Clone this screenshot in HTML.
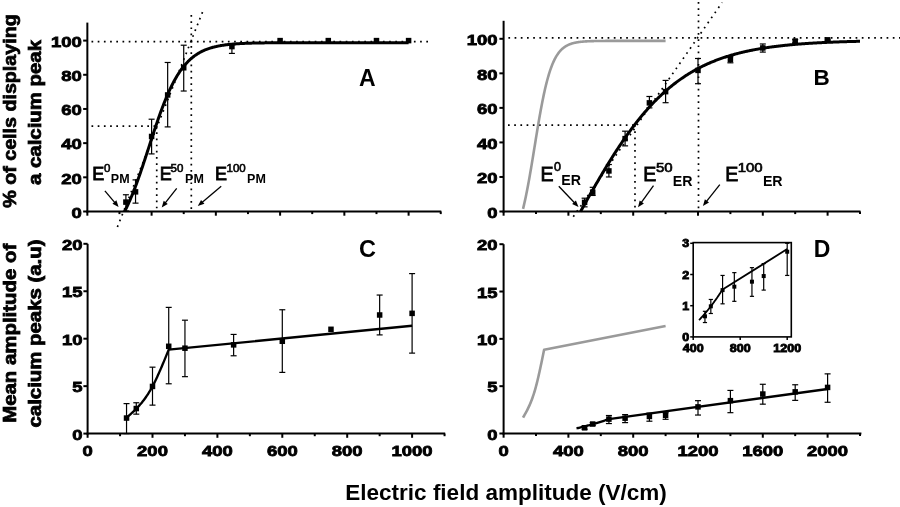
<!DOCTYPE html>
<html><head><meta charset="utf-8"><style>
html,body{margin:0;padding:0;background:#fff;}
body{width:900px;height:507px;overflow:hidden;}
svg{display:block;}
.ax{stroke:#000;stroke-width:2;fill:none;stroke-linecap:butt;}
.eb{stroke:#000;stroke-width:1.2;fill:none;}
.ar{stroke:#000;stroke-width:1.3;fill:none;}
.cv{stroke:#000;stroke-width:3;fill:none;stroke-linejoin:round;}
.ln{stroke:#000;stroke-width:2.35;fill:none;stroke-linejoin:round;}
.lni{stroke:#000;stroke-width:1.8;fill:none;stroke-linejoin:round;}
.gr{stroke:#9a9a9a;stroke-width:2.6;fill:none;stroke-linejoin:round;}
.dt{stroke:#000;stroke-width:1.7;fill:none;stroke-dasharray:1.7 4.5;}
text{font-family:"Liberation Sans",sans-serif;fill:#000;}
.tl{font-weight:bold;stroke:#000;stroke-width:0.8;}
.yt{font-weight:bold;stroke:#000;stroke-width:0.75;}
.xt{font-weight:bold;}
.pl{font-weight:bold;}
.eb1{font-weight:bold;}
.es{font-weight:normal;stroke:#000;stroke-width:0.6;}
.eE{font-weight:normal;stroke:#000;stroke-width:0.8;}
</style></head><body>
<svg width="900" height="507" viewBox="0 0 900 507">
<rect width="900" height="507" fill="#fff"/>
<line x1="87.35" y1="22.60" x2="87.35" y2="212.50" class="ax"/>
<line x1="86.35" y1="211.50" x2="441.30" y2="211.50" class="ax"/>
<line x1="83.15" y1="211.50" x2="87.35" y2="211.50" class="ax"/>
<line x1="83.15" y1="177.32" x2="87.35" y2="177.32" class="ax"/>
<line x1="83.15" y1="143.14" x2="87.35" y2="143.14" class="ax"/>
<line x1="83.15" y1="108.96" x2="87.35" y2="108.96" class="ax"/>
<line x1="83.15" y1="74.78" x2="87.35" y2="74.78" class="ax"/>
<line x1="83.15" y1="40.60" x2="87.35" y2="40.60" class="ax"/>
<line x1="87.35" y1="211.50" x2="87.35" y2="215.70" class="ax"/>
<line x1="151.60" y1="211.50" x2="151.60" y2="215.70" class="ax"/>
<line x1="215.85" y1="211.50" x2="215.85" y2="215.70" class="ax"/>
<line x1="280.10" y1="211.50" x2="280.10" y2="215.70" class="ax"/>
<line x1="344.35" y1="211.50" x2="344.35" y2="215.70" class="ax"/>
<line x1="408.60" y1="211.50" x2="408.60" y2="215.70" class="ax"/>
<line x1="119.47" y1="211.50" x2="119.47" y2="214.10" class="ax"/>
<line x1="183.72" y1="211.50" x2="183.72" y2="214.10" class="ax"/>
<line x1="247.97" y1="211.50" x2="247.97" y2="214.10" class="ax"/>
<line x1="312.23" y1="211.50" x2="312.23" y2="214.10" class="ax"/>
<line x1="376.48" y1="211.50" x2="376.48" y2="214.10" class="ax"/>
<line x1="440.73" y1="211.50" x2="440.73" y2="214.10" class="ax"/>
<text transform="translate(81.80,217.70) scale(1.215,1)" text-anchor="end" class="tl" font-size="15.2">0</text>
<text transform="translate(81.80,183.52) scale(1.215,1)" text-anchor="end" class="tl" font-size="15.2">20</text>
<text transform="translate(81.80,149.34) scale(1.215,1)" text-anchor="end" class="tl" font-size="15.2">40</text>
<text transform="translate(81.80,115.16) scale(1.215,1)" text-anchor="end" class="tl" font-size="15.2">60</text>
<text transform="translate(81.80,80.98) scale(1.215,1)" text-anchor="end" class="tl" font-size="15.2">80</text>
<text transform="translate(81.80,46.80) scale(1.215,1)" text-anchor="end" class="tl" font-size="15.2">100</text>
<line x1="91.5" y1="41.7" x2="432" y2="41.7" class="dt"/>
<line x1="91.5" y1="126.05" x2="156.74" y2="126.05" class="dt"/>
<line x1="156.74" y1="126.05" x2="156.74" y2="211" class="dt"/>
<line x1="191.3" y1="15" x2="191.3" y2="211" class="dt"/>
<line x1="117.4" y1="227" x2="203.2" y2="10.4" class="dt"/>
<path d="M124.78,211.06 L125.49,209.67 L126.20,208.25 L126.91,206.78 L127.62,205.29 L128.33,203.75 L129.04,202.19 L129.75,200.58 L130.47,198.94 L131.18,197.27 L131.89,195.56 L132.60,193.82 L133.31,192.05 L134.02,190.25 L134.73,188.41 L135.45,186.54 L136.16,184.64 L136.87,182.72 L137.58,180.76 L138.29,178.78 L139.00,176.78 L139.71,174.75 L140.43,172.70 L141.14,170.62 L141.85,168.53 L142.56,166.42 L143.27,164.29 L143.98,162.15 L144.69,159.99 L145.40,157.83 L146.12,155.65 L146.83,153.47 L147.54,151.28 L148.25,149.09 L148.96,146.89 L149.67,144.70 L150.38,142.51 L151.10,140.32 L151.81,138.14 L152.52,135.96 L153.23,133.80 L153.94,131.65 L154.65,129.51 L155.36,127.39 L156.07,125.28 L156.79,123.19 L157.50,121.12 L158.21,119.07 L158.92,117.05 L159.63,115.05 L160.34,113.08 L161.05,111.13 L161.77,109.21 L162.48,107.32 L163.19,105.46 L163.90,103.63 L164.61,101.83 L165.32,100.07 L166.03,98.34 L166.74,96.64 L167.46,94.97 L168.17,93.34 L168.88,91.75 L169.59,90.19 L170.30,88.66 L171.01,87.17 L171.72,85.72 L172.44,84.30 L173.15,82.92 L173.86,81.57 L174.57,80.26 L175.28,78.98 L175.99,77.74 L176.70,76.53 L177.41,75.35 L178.13,74.21 L178.84,73.10 L179.55,72.03 L180.26,70.98 L180.97,69.97 L181.68,68.99 L182.39,68.04 L183.11,67.11 L183.82,66.22 L184.53,65.36 L185.24,64.52 L185.95,63.71 L186.66,62.93 L187.37,62.18 L188.08,61.44 L188.80,60.74 L189.51,60.06 L190.22,59.40 L190.93,58.76 L191.64,58.15 L192.35,57.56 L193.06,56.99 L193.78,56.44 L194.49,55.90 L195.20,55.39 L195.91,54.90 L196.62,54.42 L197.33,53.97 L198.04,53.53 L198.75,53.10 L199.47,52.69 L200.18,52.30 L200.89,51.92 L201.60,51.55 L202.31,51.20 L203.02,50.86 L203.73,50.54 L204.45,50.23 L205.16,49.93 L205.87,49.64 L206.58,49.36 L207.29,49.09 L208.00,48.83 L208.71,48.59 L209.42,48.35 L210.14,48.12 L210.85,47.90 L211.56,47.69 L212.27,47.49 L212.98,47.29 L213.69,47.11 L214.40,46.93 L215.12,46.76 L215.83,46.59 L216.54,46.43 L217.25,46.28 L217.96,46.13 L218.67,45.99 L219.38,45.86 L220.10,45.73 L220.81,45.60 L221.52,45.48 L222.23,45.37 L222.94,45.26 L223.65,45.15 L224.36,45.05 L225.07,44.95 L225.79,44.86 L226.50,44.77 L227.21,44.68 L227.92,44.60 L228.63,44.52 L229.34,44.44 L230.05,44.37 L230.77,44.30 L231.48,44.23 L232.19,44.17 L232.90,44.11 L233.61,44.05 L234.32,43.99 L235.03,43.93 L235.74,43.88 L236.46,43.83 L237.17,43.78 L237.88,43.74 L238.59,43.69 L239.30,43.65 L240.01,43.61 L240.72,43.57 L241.44,43.53 L242.15,43.50 L242.86,43.46 L243.57,43.43 L244.28,43.40 L244.99,43.37 L245.70,43.34 L246.41,43.31 L247.13,43.28 L247.84,43.26 L248.55,43.23 L249.26,43.21 L249.97,43.18 L250.68,43.16 L251.39,43.14 L252.11,43.12 L252.82,43.10 L253.53,43.08 L254.24,43.07 L254.95,43.05 L255.66,43.03 L256.37,43.02 L257.08,43.00 L257.80,42.99 L258.51,42.97 L259.22,42.96 L259.93,42.95 L260.64,42.94 L261.35,42.92 L262.06,42.91 L262.78,42.90 L263.49,42.89 L264.20,42.88 L264.91,42.87 L265.62,42.86 L266.33,42.85 L267.04,42.85 L267.75,42.84 L268.47,42.83 L269.18,42.82 L269.89,42.82 L270.60,42.81 L271.31,42.80 L272.02,42.80 L272.73,42.79 L273.45,42.78 L274.16,42.78 L274.87,42.77 L275.58,42.77 L276.29,42.76 L277.00,42.76 L277.71,42.75 L278.42,42.75 L279.14,42.75 L279.85,42.74 L280.56,42.74 L281.27,42.74 L281.98,42.73 L282.69,42.73 L283.40,42.73 L284.12,42.72 L284.83,42.72 L285.54,42.72 L286.25,42.71 L286.96,42.71 L287.67,42.71 L288.38,42.71 L289.09,42.70 L289.81,42.70 L290.52,42.70 L291.23,42.70 L291.94,42.70 L292.65,42.69 L293.36,42.69 L294.07,42.69 L294.79,42.69 L295.50,42.69 L296.21,42.69 L296.92,42.68 L297.63,42.68 L298.34,42.68 L299.05,42.68 L299.77,42.68 L300.48,42.68 L301.19,42.68 L301.90,42.68 L302.61,42.67 L303.32,42.67 L304.03,42.67 L304.74,42.67 L305.46,42.67 L306.17,42.67 L306.88,42.67 L307.59,42.67 L308.30,42.67 L309.01,42.67 L309.72,42.67 L310.44,42.67 L311.15,42.67 L311.86,42.66 L312.57,42.66 L313.28,42.66 L313.99,42.66 L314.70,42.66 L315.41,42.66 L316.13,42.66 L316.84,42.66 L317.55,42.66 L318.26,42.66 L318.97,42.66 L319.68,42.66 L320.39,42.66 L321.11,42.66 L321.82,42.66 L322.53,42.66 L323.24,42.66 L323.95,42.66 L324.66,42.66 L325.37,42.66 L326.08,42.66 L326.80,42.66 L327.51,42.66 L328.22,42.66 L328.93,42.66 L329.64,42.66 L330.35,42.66 L331.06,42.66 L331.78,42.66 L332.49,42.65 L333.20,42.65 L333.91,42.65 L334.62,42.65 L335.33,42.65 L336.04,42.65 L336.75,42.65 L337.47,42.65 L338.18,42.65 L338.89,42.65 L339.60,42.65 L340.31,42.65 L341.02,42.65 L341.73,42.65 L342.45,42.65 L343.16,42.65 L343.87,42.65 L344.58,42.65 L345.29,42.65 L346.00,42.65 L346.71,42.65 L347.42,42.65 L348.14,42.65 L348.85,42.65 L349.56,42.65 L350.27,42.65 L350.98,42.65 L351.69,42.65 L352.40,42.65 L353.12,42.65 L353.83,42.65 L354.54,42.65 L355.25,42.65 L355.96,42.65 L356.67,42.65 L357.38,42.65 L358.09,42.65 L358.81,42.65 L359.52,42.65 L360.23,42.65 L360.94,42.65 L361.65,42.65 L362.36,42.65 L363.07,42.65 L363.79,42.65 L364.50,42.65 L365.21,42.65 L365.92,42.65 L366.63,42.65 L367.34,42.65 L368.05,42.65 L368.76,42.65 L369.48,42.65 L370.19,42.65 L370.90,42.65 L371.61,42.65 L372.32,42.65 L373.03,42.65 L373.74,42.65 L374.46,42.65 L375.17,42.65 L375.88,42.65 L376.59,42.65 L377.30,42.65 L378.01,42.65 L378.72,42.65 L379.44,42.65 L380.15,42.65 L380.86,42.65 L381.57,42.65 L382.28,42.65 L382.99,42.65 L383.70,42.65 L384.41,42.65 L385.13,42.65 L385.84,42.65 L386.55,42.65 L387.26,42.65 L387.97,42.65 L388.68,42.65 L389.39,42.65 L390.11,42.65 L390.82,42.65 L391.53,42.65 L392.24,42.65 L392.95,42.65 L393.66,42.65 L394.37,42.65 L395.08,42.65 L395.80,42.65 L396.51,42.65 L397.22,42.65 L397.93,42.65 L398.64,42.65 L399.35,42.65 L400.06,42.65 L400.78,42.65 L401.49,42.65 L402.20,42.65 L402.91,42.65 L403.62,42.65 L404.33,42.65 L405.04,42.65 L405.75,42.65 L406.47,42.65 L407.18,42.65 L407.89,42.65 L408.60,42.65" class="cv"/>
<line x1="125.90" y1="194.75" x2="125.90" y2="210.99" class="eb"/>
<line x1="122.90" y1="194.75" x2="128.90" y2="194.75" class="eb"/>
<line x1="122.90" y1="210.99" x2="128.90" y2="210.99" class="eb"/>
<rect x="123.15" y="199.35" width="5.5" height="5.5" fill="#000"/>
<line x1="135.54" y1="179.88" x2="135.54" y2="203.13" class="eb"/>
<line x1="132.54" y1="179.88" x2="138.54" y2="179.88" class="eb"/>
<line x1="132.54" y1="203.13" x2="138.54" y2="203.13" class="eb"/>
<rect x="132.79" y="189.10" width="5.5" height="5.5" fill="#000"/>
<line x1="151.60" y1="119.21" x2="151.60" y2="153.91" class="eb"/>
<line x1="148.60" y1="119.21" x2="154.60" y2="119.21" class="eb"/>
<line x1="148.60" y1="153.91" x2="154.60" y2="153.91" class="eb"/>
<rect x="148.85" y="133.72" width="5.5" height="5.5" fill="#000"/>
<line x1="167.66" y1="62.48" x2="167.66" y2="126.90" class="eb"/>
<line x1="164.66" y1="62.48" x2="170.66" y2="62.48" class="eb"/>
<line x1="164.66" y1="126.90" x2="170.66" y2="126.90" class="eb"/>
<rect x="164.91" y="92.20" width="5.5" height="5.5" fill="#000"/>
<line x1="183.72" y1="45.21" x2="183.72" y2="91.02" class="eb"/>
<line x1="180.72" y1="45.21" x2="186.72" y2="45.21" class="eb"/>
<line x1="180.72" y1="91.02" x2="186.72" y2="91.02" class="eb"/>
<rect x="180.97" y="65.02" width="5.5" height="5.5" fill="#000"/>
<line x1="231.91" y1="44.70" x2="231.91" y2="53.42" class="eb"/>
<line x1="228.91" y1="44.70" x2="234.91" y2="44.70" class="eb"/>
<line x1="228.91" y1="53.42" x2="234.91" y2="53.42" class="eb"/>
<rect x="229.16" y="43.83" width="5.5" height="5.5" fill="#000"/>
<rect x="277.35" y="37.85" width="5.5" height="5.5" fill="#000"/>
<rect x="325.54" y="37.85" width="5.5" height="5.5" fill="#000"/>
<rect x="373.73" y="37.85" width="5.5" height="5.5" fill="#000"/>
<rect x="405.85" y="37.85" width="5.5" height="5.5" fill="#000"/>
<text transform="translate(92.30,179.80) scale(1.0,1)" class="eE" font-size="18">E</text>
<text transform="translate(104.00,172.40) scale(1.0,1)" class="es" font-size="11.5">0</text>
<text transform="translate(110.80,182.80) scale(1.0,1)" class="eb1" font-size="12.5">PM</text>
<text transform="translate(159.70,179.80) scale(1.0,1)" class="eE" font-size="18">E</text>
<text transform="translate(170.60,171.90) scale(1.0,1)" class="es" font-size="11.5">50</text>
<text transform="translate(185.10,183.00) scale(1.0,1)" class="eb1" font-size="12.5">PM</text>
<text transform="translate(215.00,179.80) scale(1.0,1)" class="eE" font-size="18">E</text>
<text transform="translate(226.50,172.20) scale(1.0,1)" class="es" font-size="11.5">100</text>
<text transform="translate(247.10,183.00) scale(1.0,1)" class="eb1" font-size="12.5">PM</text>
<line x1="104.90" y1="190.80" x2="115.05" y2="202.80" class="ar"/>
<path d="M118.60,207.00 L112.42,203.72 L116.39,200.36 Z" fill="#000"/>
<line x1="176.70" y1="188.40" x2="165.10" y2="203.17" class="ar"/>
<path d="M161.70,207.50 L163.67,200.78 L167.76,203.99 Z" fill="#000"/>
<line x1="221.20" y1="186.20" x2="201.99" y2="202.54" class="ar"/>
<path d="M197.80,206.10 L201.07,199.91 L204.44,203.87 Z" fill="#000"/>
<text x="359" y="85.5" class="pl" font-size="23">A</text>
<line x1="503.60" y1="20.80" x2="503.60" y2="212.50" class="ax"/>
<line x1="502.60" y1="211.50" x2="860.50" y2="211.50" class="ax"/>
<line x1="499.40" y1="211.50" x2="503.60" y2="211.50" class="ax"/>
<line x1="499.40" y1="176.96" x2="503.60" y2="176.96" class="ax"/>
<line x1="499.40" y1="142.42" x2="503.60" y2="142.42" class="ax"/>
<line x1="499.40" y1="107.88" x2="503.60" y2="107.88" class="ax"/>
<line x1="499.40" y1="73.34" x2="503.60" y2="73.34" class="ax"/>
<line x1="499.40" y1="38.80" x2="503.60" y2="38.80" class="ax"/>
<line x1="503.60" y1="211.50" x2="503.60" y2="215.70" class="ax"/>
<line x1="568.40" y1="211.50" x2="568.40" y2="215.70" class="ax"/>
<line x1="633.20" y1="211.50" x2="633.20" y2="215.70" class="ax"/>
<line x1="698.00" y1="211.50" x2="698.00" y2="215.70" class="ax"/>
<line x1="762.80" y1="211.50" x2="762.80" y2="215.70" class="ax"/>
<line x1="827.60" y1="211.50" x2="827.60" y2="215.70" class="ax"/>
<line x1="536.00" y1="211.50" x2="536.00" y2="214.10" class="ax"/>
<line x1="600.80" y1="211.50" x2="600.80" y2="214.10" class="ax"/>
<line x1="665.60" y1="211.50" x2="665.60" y2="214.10" class="ax"/>
<line x1="730.40" y1="211.50" x2="730.40" y2="214.10" class="ax"/>
<line x1="795.20" y1="211.50" x2="795.20" y2="214.10" class="ax"/>
<line x1="860.00" y1="211.50" x2="860.00" y2="214.10" class="ax"/>
<text transform="translate(497.60,217.70) scale(1.215,1)" text-anchor="end" class="tl" font-size="15.2">0</text>
<text transform="translate(497.60,183.16) scale(1.215,1)" text-anchor="end" class="tl" font-size="15.2">20</text>
<text transform="translate(497.60,148.62) scale(1.215,1)" text-anchor="end" class="tl" font-size="15.2">40</text>
<text transform="translate(497.60,114.08) scale(1.215,1)" text-anchor="end" class="tl" font-size="15.2">60</text>
<text transform="translate(497.60,79.54) scale(1.215,1)" text-anchor="end" class="tl" font-size="15.2">80</text>
<text transform="translate(497.60,45.00) scale(1.215,1)" text-anchor="end" class="tl" font-size="15.2">100</text>
<line x1="508.4" y1="37.9" x2="900" y2="37.9" class="dt"/>
<line x1="508" y1="125.15" x2="634.98" y2="125.15" class="dt"/>
<line x1="634.98" y1="125.15" x2="634.98" y2="211" class="dt"/>
<line x1="698.5" y1="2" x2="698.5" y2="211" class="dt"/>
<line x1="573.3" y1="216.7" x2="722.2" y2="2.4" class="dt"/>
<path d="M523.04,208.82 L523.52,206.87 L523.99,204.85 L524.47,202.78 L524.95,200.63 L525.42,198.43 L525.90,196.17 L526.38,193.84 L526.85,191.46 L527.33,189.02 L527.81,186.52 L528.28,183.97 L528.76,181.37 L529.24,178.72 L529.72,176.03 L530.19,173.29 L530.67,170.51 L531.15,167.70 L531.62,164.86 L532.10,161.99 L532.58,159.09 L533.05,156.18 L533.53,153.25 L534.01,150.31 L534.48,147.36 L534.96,144.42 L535.44,141.47 L535.91,138.54 L536.39,135.61 L536.87,132.71 L537.34,129.82 L537.82,126.96 L538.30,124.13 L538.77,121.33 L539.25,118.57 L539.73,115.85 L540.20,113.17 L540.68,110.54 L541.16,107.96 L541.63,105.43 L542.11,102.96 L542.59,100.54 L543.07,98.18 L543.54,95.88 L544.02,93.64 L544.50,91.46 L544.97,89.34 L545.45,87.29 L545.93,85.30 L546.40,83.38 L546.88,81.51 L547.36,79.71 L547.83,77.97 L548.31,76.30 L548.79,74.68 L549.26,73.13 L549.74,71.63 L550.22,70.19 L550.69,68.81 L551.17,67.49 L551.65,66.21 L552.12,65.00 L552.60,63.83 L553.08,62.71 L553.55,61.64 L554.03,60.62 L554.51,59.64 L554.98,58.71 L555.46,57.82 L555.94,56.97 L556.42,56.16 L556.89,55.39 L557.37,54.65 L557.85,53.95 L558.32,53.28 L558.80,52.64 L559.28,52.04 L559.75,51.46 L560.23,50.92 L560.71,50.39 L561.18,49.90 L561.66,49.43 L562.14,48.98 L562.61,48.56 L563.09,48.16 L563.57,47.77 L564.04,47.41 L564.52,47.07 L565.00,46.74 L565.47,46.43 L565.95,46.13 L566.43,45.86 L566.90,45.59 L567.38,45.34 L567.86,45.10 L568.33,44.88 L568.81,44.66 L569.29,44.46 L569.77,44.27 L570.24,44.09 L570.72,43.92 L571.20,43.75 L571.67,43.60 L572.15,43.45 L572.63,43.31 L573.10,43.18 L573.58,43.06 L574.06,42.94 L574.53,42.83 L575.01,42.72 L575.49,42.63 L575.96,42.53 L576.44,42.44 L576.92,42.36 L577.39,42.28 L577.87,42.20 L578.35,42.13 L578.82,42.06 L579.30,42.00 L579.78,41.94 L580.25,41.88 L580.73,41.82 L581.21,41.77 L581.69,41.72 L582.16,41.68 L582.64,41.63 L583.12,41.59 L583.59,41.55 L584.07,41.52 L584.55,41.48 L585.02,41.45 L585.50,41.42 L585.98,41.39 L586.45,41.36 L586.93,41.33 L587.41,41.31 L587.88,41.29 L588.36,41.26 L588.84,41.24 L589.31,41.22 L589.79,41.20 L590.27,41.19 L590.74,41.17 L591.22,41.15 L591.70,41.14 L592.17,41.12 L592.65,41.11 L593.13,41.10 L593.60,41.08 L594.08,41.07 L594.56,41.06 L595.04,41.05 L595.51,41.04 L595.99,41.03 L596.47,41.02 L596.94,41.02 L597.42,41.01 L597.90,41.00 L598.37,40.99 L598.85,40.99 L599.33,40.98 L599.80,40.97 L600.28,40.97 L600.76,40.96 L601.23,40.96 L601.71,40.95 L602.19,40.95 L602.66,40.95 L603.14,40.94 L603.62,40.94 L604.09,40.93 L604.57,40.93 L605.05,40.93 L605.52,40.92 L606.00,40.92 L606.48,40.92 L606.95,40.92 L607.43,40.91 L607.91,40.91 L608.39,40.91 L608.86,40.91 L609.34,40.91 L609.82,40.90 L610.29,40.90 L610.77,40.90 L611.25,40.90 L611.72,40.90 L612.20,40.90 L612.68,40.90 L613.15,40.89 L613.63,40.89 L614.11,40.89 L614.58,40.89 L615.06,40.89 L615.54,40.89 L616.01,40.89 L616.49,40.89 L616.97,40.89 L617.44,40.89 L617.92,40.88 L618.40,40.88 L618.87,40.88 L619.35,40.88 L619.83,40.88 L620.31,40.88 L620.78,40.88 L621.26,40.88 L621.74,40.88 L622.21,40.88 L622.69,40.88 L623.17,40.88 L623.64,40.88 L624.12,40.88 L624.60,40.88 L625.07,40.88 L625.55,40.88 L626.03,40.88 L626.50,40.88 L626.98,40.88 L627.46,40.88 L627.93,40.88 L628.41,40.88 L628.89,40.88 L629.36,40.88 L629.84,40.88 L630.32,40.88 L630.79,40.88 L631.27,40.87 L631.75,40.87 L632.22,40.87 L632.70,40.87 L633.18,40.87 L633.66,40.87 L634.13,40.87 L634.61,40.87 L635.09,40.87 L635.56,40.87 L636.04,40.87 L636.52,40.87 L636.99,40.87 L637.47,40.87 L637.95,40.87 L638.42,40.87 L638.90,40.87 L639.38,40.87 L639.85,40.87 L640.33,40.87 L640.81,40.87 L641.28,40.87 L641.76,40.87 L642.24,40.87 L642.71,40.87 L643.19,40.87 L643.67,40.87 L644.14,40.87 L644.62,40.87 L645.10,40.87 L645.57,40.87 L646.05,40.87 L646.53,40.87 L647.01,40.87 L647.48,40.87 L647.96,40.87 L648.44,40.87 L648.91,40.87 L649.39,40.87 L649.87,40.87 L650.34,40.87 L650.82,40.87 L651.30,40.87 L651.77,40.87 L652.25,40.87 L652.73,40.87 L653.20,40.87 L653.68,40.87 L654.16,40.87 L654.63,40.87 L655.11,40.87 L655.59,40.87 L656.06,40.87 L656.54,40.87 L657.02,40.87 L657.49,40.87 L657.97,40.87 L658.45,40.87 L658.92,40.87 L659.40,40.87 L659.88,40.87 L660.36,40.87 L660.83,40.87 L661.31,40.87 L661.79,40.87 L662.26,40.87 L662.74,40.87 L663.22,40.87 L663.69,40.87 L664.17,40.87 L664.65,40.87 L665.12,40.87 L665.60,40.87" class="gr"/>
<path d="M580.55,211.54 L581.25,210.29 L581.95,209.04 L582.65,207.78 L583.35,206.53 L584.05,205.28 L584.75,204.03 L585.45,202.78 L586.15,201.54 L586.85,200.29 L587.55,199.05 L588.25,197.81 L588.95,196.57 L589.65,195.33 L590.36,194.10 L591.06,192.86 L591.76,191.63 L592.46,190.41 L593.16,189.18 L593.86,187.96 L594.56,186.74 L595.26,185.52 L595.96,184.31 L596.66,183.10 L597.36,181.89 L598.06,180.69 L598.76,179.49 L599.46,178.29 L600.16,177.10 L600.86,175.91 L601.56,174.73 L602.26,173.55 L602.96,172.37 L603.66,171.20 L604.36,170.03 L605.06,168.87 L605.76,167.71 L606.46,166.55 L607.16,165.40 L607.86,164.26 L608.57,163.12 L609.27,161.98 L609.97,160.85 L610.67,159.73 L611.37,158.61 L612.07,157.49 L612.77,156.38 L613.47,155.28 L614.17,154.18 L614.87,153.09 L615.57,152.00 L616.27,150.92 L616.97,149.84 L617.67,148.77 L618.37,147.71 L619.07,146.65 L619.77,145.60 L620.47,144.55 L621.17,143.51 L621.87,142.48 L622.57,141.45 L623.27,140.43 L623.97,139.41 L624.67,138.41 L625.37,137.40 L626.07,136.41 L626.77,135.42 L627.48,134.43 L628.18,133.46 L628.88,132.49 L629.58,131.52 L630.28,130.56 L630.98,129.61 L631.68,128.67 L632.38,127.73 L633.08,126.80 L633.78,125.88 L634.48,124.96 L635.18,124.05 L635.88,123.15 L636.58,122.25 L637.28,121.36 L637.98,120.48 L638.68,119.60 L639.38,118.73 L640.08,117.87 L640.78,117.01 L641.48,116.16 L642.18,115.32 L642.88,114.48 L643.58,113.66 L644.28,112.83 L644.98,112.02 L645.68,111.21 L646.39,110.41 L647.09,109.62 L647.79,108.83 L648.49,108.05 L649.19,107.27 L649.89,106.51 L650.59,105.74 L651.29,104.99 L651.99,104.24 L652.69,103.50 L653.39,102.77 L654.09,102.04 L654.79,101.32 L655.49,100.61 L656.19,99.90 L656.89,99.20 L657.59,98.51 L658.29,97.82 L658.99,97.14 L659.69,96.47 L660.39,95.80 L661.09,95.14 L661.79,94.48 L662.49,93.83 L663.19,93.19 L663.89,92.56 L664.60,91.93 L665.30,91.30 L666.00,90.69 L666.70,90.08 L667.40,89.47 L668.10,88.87 L668.80,88.28 L669.50,87.69 L670.20,87.11 L670.90,86.54 L671.60,85.97 L672.30,85.41 L673.00,84.85 L673.70,84.30 L674.40,83.76 L675.10,83.22 L675.80,82.69 L676.50,82.16 L677.20,81.64 L677.90,81.12 L678.60,80.61 L679.30,80.11 L680.00,79.61 L680.70,79.11 L681.40,78.62 L682.10,78.14 L682.80,77.66 L683.51,77.19 L684.21,76.72 L684.91,76.26 L685.61,75.80 L686.31,75.35 L687.01,74.90 L687.71,74.46 L688.41,74.03 L689.11,73.59 L689.81,73.17 L690.51,72.75 L691.21,72.33 L691.91,71.92 L692.61,71.51 L693.31,71.11 L694.01,70.71 L694.71,70.32 L695.41,69.93 L696.11,69.54 L696.81,69.16 L697.51,68.79 L698.21,68.42 L698.91,68.05 L699.61,67.69 L700.31,67.33 L701.01,66.98 L701.72,66.63 L702.42,66.28 L703.12,65.94 L703.82,65.60 L704.52,65.27 L705.22,64.94 L705.92,64.62 L706.62,64.30 L707.32,63.98 L708.02,63.67 L708.72,63.36 L709.42,63.05 L710.12,62.75 L710.82,62.45 L711.52,62.16 L712.22,61.87 L712.92,61.58 L713.62,61.30 L714.32,61.02 L715.02,60.74 L715.72,60.47 L716.42,60.20 L717.12,59.93 L717.82,59.67 L718.52,59.41 L719.22,59.15 L719.92,58.90 L720.63,58.65 L721.33,58.40 L722.03,58.16 L722.73,57.91 L723.43,57.68 L724.13,57.44 L724.83,57.21 L725.53,56.98 L726.23,56.76 L726.93,56.53 L727.63,56.31 L728.33,56.09 L729.03,55.88 L729.73,55.67 L730.43,55.46 L731.13,55.25 L731.83,55.05 L732.53,54.85 L733.23,54.65 L733.93,54.45 L734.63,54.26 L735.33,54.07 L736.03,53.88 L736.73,53.69 L737.43,53.51 L738.13,53.33 L738.83,53.15 L739.54,52.97 L740.24,52.80 L740.94,52.63 L741.64,52.46 L742.34,52.29 L743.04,52.12 L743.74,51.96 L744.44,51.80 L745.14,51.64 L745.84,51.48 L746.54,51.33 L747.24,51.18 L747.94,51.03 L748.64,50.88 L749.34,50.73 L750.04,50.59 L750.74,50.44 L751.44,50.30 L752.14,50.16 L752.84,50.03 L753.54,49.89 L754.24,49.76 L754.94,49.62 L755.64,49.49 L756.34,49.37 L757.04,49.24 L757.75,49.11 L758.45,48.99 L759.15,48.87 L759.85,48.75 L760.55,48.63 L761.25,48.51 L761.95,48.40 L762.65,48.28 L763.35,48.17 L764.05,48.06 L764.75,47.95 L765.45,47.84 L766.15,47.74 L766.85,47.63 L767.55,47.53 L768.25,47.43 L768.95,47.33 L769.65,47.23 L770.35,47.13 L771.05,47.03 L771.75,46.94 L772.45,46.84 L773.15,46.75 L773.85,46.66 L774.55,46.57 L775.25,46.48 L775.95,46.39 L776.66,46.31 L777.36,46.22 L778.06,46.14 L778.76,46.05 L779.46,45.97 L780.16,45.89 L780.86,45.81 L781.56,45.73 L782.26,45.65 L782.96,45.58 L783.66,45.50 L784.36,45.43 L785.06,45.35 L785.76,45.28 L786.46,45.21 L787.16,45.14 L787.86,45.07 L788.56,45.00 L789.26,44.93 L789.96,44.86 L790.66,44.80 L791.36,44.73 L792.06,44.67 L792.76,44.61 L793.46,44.54 L794.16,44.48 L794.87,44.42 L795.57,44.36 L796.27,44.30 L796.97,44.24 L797.67,44.19 L798.37,44.13 L799.07,44.07 L799.77,44.02 L800.47,43.97 L801.17,43.91 L801.87,43.86 L802.57,43.81 L803.27,43.76 L803.97,43.70 L804.67,43.65 L805.37,43.61 L806.07,43.56 L806.77,43.51 L807.47,43.46 L808.17,43.42 L808.87,43.37 L809.57,43.32 L810.27,43.28 L810.97,43.24 L811.67,43.19 L812.37,43.15 L813.07,43.11 L813.78,43.06 L814.48,43.02 L815.18,42.98 L815.88,42.94 L816.58,42.90 L817.28,42.86 L817.98,42.83 L818.68,42.79 L819.38,42.75 L820.08,42.71 L820.78,42.68 L821.48,42.64 L822.18,42.61 L822.88,42.57 L823.58,42.54 L824.28,42.50 L824.98,42.47 L825.68,42.44 L826.38,42.40 L827.08,42.37 L827.78,42.34 L828.48,42.31 L829.18,42.28 L829.88,42.25 L830.58,42.22 L831.28,42.19 L831.98,42.16 L832.69,42.13 L833.39,42.10 L834.09,42.08 L834.79,42.05 L835.49,42.02 L836.19,42.00 L836.89,41.97 L837.59,41.94 L838.29,41.92 L838.99,41.89 L839.69,41.87 L840.39,41.84 L841.09,41.82 L841.79,41.79 L842.49,41.77 L843.19,41.75 L843.89,41.72 L844.59,41.70 L845.29,41.68 L845.99,41.66 L846.69,41.64 L847.39,41.62 L848.09,41.59 L848.79,41.57 L849.49,41.55 L850.19,41.53 L850.90,41.51 L851.60,41.49 L852.30,41.47 L853.00,41.45 L853.70,41.44 L854.40,41.42 L855.10,41.40 L855.80,41.38 L856.50,41.36 L857.20,41.35 L857.90,41.33 L858.60,41.31 L859.30,41.29 L860.00,41.28" class="cv"/>
<line x1="584.60" y1="198.20" x2="584.60" y2="206.84" class="eb"/>
<line x1="581.60" y1="198.20" x2="587.60" y2="198.20" class="eb"/>
<line x1="581.60" y1="206.84" x2="587.60" y2="206.84" class="eb"/>
<rect x="581.85" y="199.60" width="5.5" height="5.5" fill="#000"/>
<line x1="592.70" y1="187.32" x2="592.70" y2="195.44" class="eb"/>
<line x1="589.70" y1="187.32" x2="595.70" y2="187.32" class="eb"/>
<line x1="589.70" y1="195.44" x2="595.70" y2="195.44" class="eb"/>
<rect x="589.95" y="189.41" width="5.5" height="5.5" fill="#000"/>
<line x1="608.90" y1="164.53" x2="608.90" y2="176.96" class="eb"/>
<line x1="605.90" y1="164.53" x2="611.90" y2="164.53" class="eb"/>
<line x1="605.90" y1="176.96" x2="611.90" y2="176.96" class="eb"/>
<rect x="606.15" y="168.17" width="5.5" height="5.5" fill="#000"/>
<line x1="625.10" y1="131.19" x2="625.10" y2="145.87" class="eb"/>
<line x1="622.10" y1="131.19" x2="628.10" y2="131.19" class="eb"/>
<line x1="622.10" y1="145.87" x2="628.10" y2="145.87" class="eb"/>
<rect x="622.35" y="135.87" width="5.5" height="5.5" fill="#000"/>
<line x1="649.40" y1="96.48" x2="649.40" y2="107.88" class="eb"/>
<line x1="646.40" y1="96.48" x2="652.40" y2="96.48" class="eb"/>
<line x1="646.40" y1="107.88" x2="652.40" y2="107.88" class="eb"/>
<rect x="646.65" y="100.12" width="5.5" height="5.5" fill="#000"/>
<line x1="665.60" y1="80.42" x2="665.60" y2="102.70" class="eb"/>
<line x1="662.60" y1="80.42" x2="668.60" y2="80.42" class="eb"/>
<line x1="662.60" y1="102.70" x2="668.60" y2="102.70" class="eb"/>
<rect x="662.85" y="88.90" width="5.5" height="5.5" fill="#000"/>
<line x1="698.00" y1="58.49" x2="698.00" y2="83.70" class="eb"/>
<line x1="695.00" y1="58.49" x2="701.00" y2="58.49" class="eb"/>
<line x1="695.00" y1="83.70" x2="701.00" y2="83.70" class="eb"/>
<rect x="695.25" y="67.65" width="5.5" height="5.5" fill="#000"/>
<line x1="730.40" y1="56.59" x2="730.40" y2="62.81" class="eb"/>
<line x1="727.40" y1="56.59" x2="733.40" y2="56.59" class="eb"/>
<line x1="727.40" y1="62.81" x2="733.40" y2="62.81" class="eb"/>
<rect x="727.65" y="56.77" width="5.5" height="5.5" fill="#000"/>
<line x1="762.80" y1="43.98" x2="762.80" y2="52.10" class="eb"/>
<line x1="759.80" y1="43.98" x2="765.80" y2="43.98" class="eb"/>
<line x1="759.80" y1="52.10" x2="765.80" y2="52.10" class="eb"/>
<rect x="760.05" y="45.20" width="5.5" height="5.5" fill="#000"/>
<line x1="795.20" y1="39.66" x2="795.20" y2="42.77" class="eb"/>
<line x1="792.20" y1="39.66" x2="798.20" y2="39.66" class="eb"/>
<line x1="792.20" y1="42.77" x2="798.20" y2="42.77" class="eb"/>
<rect x="792.45" y="38.30" width="5.5" height="5.5" fill="#000"/>
<line x1="827.60" y1="39.32" x2="827.60" y2="40.53" class="eb"/>
<line x1="824.60" y1="39.32" x2="830.60" y2="39.32" class="eb"/>
<line x1="824.60" y1="40.53" x2="830.60" y2="40.53" class="eb"/>
<rect x="824.85" y="37.09" width="5.5" height="5.5" fill="#000"/>
<text transform="translate(540.60,180.50) scale(1.0,1)" class="eE" font-size="19.5">E</text>
<text transform="translate(554.00,171.20) scale(1.0,1)" class="es" font-size="12.5">0</text>
<text transform="translate(561.20,184.60) scale(1.0,1)" class="eb1" font-size="14.2">ER</text>
<text transform="translate(643.20,181.10) scale(1.0,1)" class="eE" font-size="19.5">E</text>
<text transform="translate(656.00,172.20) scale(1.2,1)" class="es" font-size="12.5">50</text>
<text transform="translate(672.80,185.60) scale(1.0,1)" class="eb1" font-size="14.2">ER</text>
<text transform="translate(725.30,181.10) scale(1.0,1)" class="eE" font-size="19.5">E</text>
<text transform="translate(737.70,172.20) scale(1.2,1)" class="es" font-size="12.5">100</text>
<text transform="translate(762.90,185.60) scale(1.0,1)" class="eb1" font-size="14.2">ER</text>
<line x1="558.80" y1="186.20" x2="574.72" y2="203.01" class="ar"/>
<path d="M578.50,207.00 L572.14,204.07 L575.92,200.49 Z" fill="#000"/>
<line x1="653.50" y1="185.60" x2="641.21" y2="202.73" class="ar"/>
<path d="M638.00,207.20 L639.68,200.40 L643.90,203.43 Z" fill="#000"/>
<line x1="719.80" y1="184.70" x2="706.32" y2="201.69" class="ar"/>
<path d="M702.90,206.00 L704.90,199.29 L708.98,202.52 Z" fill="#000"/>
<text x="813.5" y="84.9" class="pl" font-size="22.5">B</text>
<line x1="87.60" y1="243.80" x2="87.60" y2="434.60" class="ax"/>
<line x1="86.60" y1="433.60" x2="445.20" y2="433.60" class="ax"/>
<line x1="83.40" y1="433.60" x2="87.60" y2="433.60" class="ax"/>
<line x1="83.40" y1="386.15" x2="87.60" y2="386.15" class="ax"/>
<line x1="83.40" y1="338.70" x2="87.60" y2="338.70" class="ax"/>
<line x1="83.40" y1="291.25" x2="87.60" y2="291.25" class="ax"/>
<line x1="83.40" y1="243.80" x2="87.60" y2="243.80" class="ax"/>
<line x1="87.60" y1="433.60" x2="87.60" y2="437.80" class="ax"/>
<line x1="152.50" y1="433.60" x2="152.50" y2="437.80" class="ax"/>
<line x1="217.40" y1="433.60" x2="217.40" y2="437.80" class="ax"/>
<line x1="282.30" y1="433.60" x2="282.30" y2="437.80" class="ax"/>
<line x1="347.20" y1="433.60" x2="347.20" y2="437.80" class="ax"/>
<line x1="412.10" y1="433.60" x2="412.10" y2="437.80" class="ax"/>
<line x1="120.05" y1="433.60" x2="120.05" y2="436.20" class="ax"/>
<line x1="184.95" y1="433.60" x2="184.95" y2="436.20" class="ax"/>
<line x1="249.85" y1="433.60" x2="249.85" y2="436.20" class="ax"/>
<line x1="314.75" y1="433.60" x2="314.75" y2="436.20" class="ax"/>
<line x1="379.65" y1="433.60" x2="379.65" y2="436.20" class="ax"/>
<line x1="444.55" y1="433.60" x2="444.55" y2="436.20" class="ax"/>
<text transform="translate(82.50,439.80) scale(1.215,1)" text-anchor="end" class="tl" font-size="15.2">0</text>
<text transform="translate(82.50,392.35) scale(1.215,1)" text-anchor="end" class="tl" font-size="15.2">5</text>
<text transform="translate(82.50,344.90) scale(1.215,1)" text-anchor="end" class="tl" font-size="15.2">10</text>
<text transform="translate(82.50,297.45) scale(1.215,1)" text-anchor="end" class="tl" font-size="15.2">15</text>
<text transform="translate(82.50,250.00) scale(1.215,1)" text-anchor="end" class="tl" font-size="15.2">20</text>
<text transform="translate(87.60,456.40) scale(1.215,1)" text-anchor="middle" class="tl" font-size="15.2">0</text>
<text transform="translate(152.50,456.40) scale(1.215,1)" text-anchor="middle" class="tl" font-size="15.2">200</text>
<text transform="translate(217.40,456.40) scale(1.215,1)" text-anchor="middle" class="tl" font-size="15.2">400</text>
<text transform="translate(282.30,456.40) scale(1.215,1)" text-anchor="middle" class="tl" font-size="15.2">600</text>
<text transform="translate(347.20,456.40) scale(1.215,1)" text-anchor="middle" class="tl" font-size="15.2">800</text>
<text transform="translate(412.10,456.40) scale(1.215,1)" text-anchor="middle" class="tl" font-size="15.2">1000</text>
<path d="M126.54,417.66 L127.25,417.04 L127.97,416.42 L128.69,415.79 L129.40,415.17 L130.12,414.53 L130.83,413.90 L131.54,413.25 L132.26,412.60 L132.97,411.94 L133.69,411.27 L134.41,410.58 L135.12,409.89 L135.83,409.18 L136.55,408.46 L137.26,407.72 L137.98,406.96 L138.69,406.18 L139.41,405.39 L140.12,404.58 L140.84,403.74 L141.56,402.88 L142.27,402.01 L142.99,401.10 L143.70,400.17 L144.41,399.22 L145.13,398.24 L145.84,397.23 L146.56,396.19 L147.27,395.13 L147.99,394.03 L148.70,392.90 L149.42,391.74 L150.13,390.55 L150.85,389.32 L151.56,388.05 L152.28,386.75 L153.00,385.41 L153.71,384.03 L154.43,382.62 L155.14,381.18 L155.85,379.70 L156.57,378.19 L157.28,376.66 L158.00,375.10 L158.72,373.51 L159.43,371.90 L160.14,370.27 L160.86,368.62 L161.57,366.95 L162.29,365.27 L163.00,363.56 L163.72,361.85 L164.44,360.12 L165.15,358.39 L165.87,356.64 L166.58,354.89 L167.29,353.13 L168.01,351.37 L168.72,349.61 L412.10,325.79" class="ln"/>
<line x1="126.54" y1="403.61" x2="126.54" y2="433.60" class="eb"/>
<line x1="123.54" y1="403.61" x2="129.54" y2="403.61" class="eb"/>
<line x1="123.54" y1="433.60" x2="129.54" y2="433.60" class="eb"/>
<rect x="123.79" y="415.29" width="5.5" height="5.5" fill="#000"/>
<line x1="136.28" y1="402.76" x2="136.28" y2="414.15" class="eb"/>
<line x1="133.28" y1="402.76" x2="139.28" y2="402.76" class="eb"/>
<line x1="133.28" y1="414.15" x2="139.28" y2="414.15" class="eb"/>
<rect x="133.53" y="405.80" width="5.5" height="5.5" fill="#000"/>
<line x1="152.50" y1="367.17" x2="152.50" y2="405.13" class="eb"/>
<line x1="149.50" y1="367.17" x2="155.50" y2="367.17" class="eb"/>
<line x1="149.50" y1="405.13" x2="155.50" y2="405.13" class="eb"/>
<rect x="149.75" y="383.68" width="5.5" height="5.5" fill="#000"/>
<line x1="168.72" y1="307.38" x2="168.72" y2="383.78" class="eb"/>
<line x1="165.72" y1="307.38" x2="171.72" y2="307.38" class="eb"/>
<line x1="165.72" y1="383.78" x2="171.72" y2="383.78" class="eb"/>
<rect x="165.97" y="343.54" width="5.5" height="5.5" fill="#000"/>
<line x1="184.95" y1="320.19" x2="184.95" y2="376.66" class="eb"/>
<line x1="181.95" y1="320.19" x2="187.95" y2="320.19" class="eb"/>
<line x1="181.95" y1="376.66" x2="187.95" y2="376.66" class="eb"/>
<rect x="182.20" y="345.44" width="5.5" height="5.5" fill="#000"/>
<line x1="233.62" y1="334.43" x2="233.62" y2="355.78" class="eb"/>
<line x1="230.62" y1="334.43" x2="236.62" y2="334.43" class="eb"/>
<line x1="230.62" y1="355.78" x2="236.62" y2="355.78" class="eb"/>
<rect x="230.88" y="342.12" width="5.5" height="5.5" fill="#000"/>
<line x1="282.30" y1="309.76" x2="282.30" y2="372.39" class="eb"/>
<line x1="279.30" y1="309.76" x2="285.30" y2="309.76" class="eb"/>
<line x1="279.30" y1="372.39" x2="285.30" y2="372.39" class="eb"/>
<rect x="279.55" y="338.51" width="5.5" height="5.5" fill="#000"/>
<rect x="328.23" y="326.55" width="5.5" height="5.5" fill="#000"/>
<line x1="379.65" y1="295.05" x2="379.65" y2="334.90" class="eb"/>
<line x1="376.65" y1="295.05" x2="382.65" y2="295.05" class="eb"/>
<line x1="376.65" y1="334.90" x2="382.65" y2="334.90" class="eb"/>
<rect x="376.90" y="312.23" width="5.5" height="5.5" fill="#000"/>
<line x1="412.10" y1="273.60" x2="412.10" y2="353.12" class="eb"/>
<line x1="409.10" y1="273.60" x2="415.10" y2="273.60" class="eb"/>
<line x1="409.10" y1="353.12" x2="415.10" y2="353.12" class="eb"/>
<rect x="409.35" y="310.61" width="5.5" height="5.5" fill="#000"/>
<text x="359" y="257" class="pl" font-size="23.5">C</text>
<line x1="503.60" y1="244.20" x2="503.60" y2="434.50" class="ax"/>
<line x1="502.60" y1="433.50" x2="861.40" y2="433.50" class="ax"/>
<line x1="499.40" y1="433.50" x2="503.60" y2="433.50" class="ax"/>
<line x1="499.40" y1="386.18" x2="503.60" y2="386.18" class="ax"/>
<line x1="499.40" y1="338.85" x2="503.60" y2="338.85" class="ax"/>
<line x1="499.40" y1="291.52" x2="503.60" y2="291.52" class="ax"/>
<line x1="499.40" y1="244.20" x2="503.60" y2="244.20" class="ax"/>
<line x1="503.60" y1="433.50" x2="503.60" y2="437.70" class="ax"/>
<line x1="568.40" y1="433.50" x2="568.40" y2="437.70" class="ax"/>
<line x1="633.20" y1="433.50" x2="633.20" y2="437.70" class="ax"/>
<line x1="698.00" y1="433.50" x2="698.00" y2="437.70" class="ax"/>
<line x1="762.80" y1="433.50" x2="762.80" y2="437.70" class="ax"/>
<line x1="827.60" y1="433.50" x2="827.60" y2="437.70" class="ax"/>
<line x1="536.00" y1="433.50" x2="536.00" y2="436.10" class="ax"/>
<line x1="600.80" y1="433.50" x2="600.80" y2="436.10" class="ax"/>
<line x1="665.60" y1="433.50" x2="665.60" y2="436.10" class="ax"/>
<line x1="730.40" y1="433.50" x2="730.40" y2="436.10" class="ax"/>
<line x1="795.20" y1="433.50" x2="795.20" y2="436.10" class="ax"/>
<line x1="860.00" y1="433.50" x2="860.00" y2="436.10" class="ax"/>
<text transform="translate(497.60,439.70) scale(1.215,1)" text-anchor="end" class="tl" font-size="15.2">0</text>
<text transform="translate(497.60,392.38) scale(1.215,1)" text-anchor="end" class="tl" font-size="15.2">5</text>
<text transform="translate(497.60,345.05) scale(1.215,1)" text-anchor="end" class="tl" font-size="15.2">10</text>
<text transform="translate(497.60,297.72) scale(1.215,1)" text-anchor="end" class="tl" font-size="15.2">15</text>
<text transform="translate(497.60,250.40) scale(1.215,1)" text-anchor="end" class="tl" font-size="15.2">20</text>
<text transform="translate(503.60,456.40) scale(1.215,1)" text-anchor="middle" class="tl" font-size="15.2">0</text>
<text transform="translate(568.40,456.40) scale(1.215,1)" text-anchor="middle" class="tl" font-size="15.2">400</text>
<text transform="translate(633.20,456.40) scale(1.215,1)" text-anchor="middle" class="tl" font-size="15.2">800</text>
<text transform="translate(698.00,456.40) scale(1.215,1)" text-anchor="middle" class="tl" font-size="15.2">1200</text>
<text transform="translate(762.80,456.40) scale(1.215,1)" text-anchor="middle" class="tl" font-size="15.2">1600</text>
<text transform="translate(827.60,456.40) scale(1.215,1)" text-anchor="middle" class="tl" font-size="15.2">2000</text>
<path d="M523.04,417.60 L523.40,416.98 L523.75,416.36 L524.11,415.74 L524.47,415.11 L524.82,414.48 L525.18,413.85 L525.54,413.21 L525.90,412.56 L526.25,411.90 L526.61,411.23 L526.97,410.55 L527.32,409.85 L527.68,409.14 L528.04,408.42 L528.39,407.68 L528.75,406.93 L529.11,406.16 L529.47,405.36 L529.82,404.55 L530.18,403.72 L530.54,402.87 L530.89,401.99 L531.25,401.09 L531.61,400.16 L531.96,399.21 L532.32,398.23 L532.68,397.23 L533.03,396.19 L533.39,395.13 L533.75,394.04 L534.11,392.91 L534.46,391.75 L534.82,390.56 L535.18,389.33 L535.53,388.07 L535.89,386.77 L536.25,385.44 L536.60,384.06 L536.96,382.66 L537.32,381.22 L537.67,379.74 L538.03,378.24 L538.39,376.71 L538.75,375.15 L539.10,373.57 L539.46,371.97 L539.82,370.34 L540.17,368.69 L540.53,367.03 L540.89,365.35 L541.24,363.65 L541.60,361.94 L541.96,360.22 L542.32,358.48 L542.67,356.74 L543.03,355.00 L543.39,353.25 L543.74,351.49 L544.10,349.73 L665.60,325.98" class="gr"/>
<path d="M576.50,428.39 L577.33,428.20 L578.16,428.01 L578.99,427.81 L579.82,427.61 L580.65,427.41 L581.48,427.21 L582.32,427.00 L583.15,426.79 L583.98,426.58 L584.81,426.37 L585.64,426.16 L586.47,425.94 L587.30,425.72 L588.13,425.49 L588.96,425.27 L589.79,425.04 L590.62,424.81 L591.45,424.58 L592.28,424.34 L593.12,424.11 L593.95,423.86 L594.78,423.62 L595.61,423.38 L596.44,423.13 L597.27,422.88 L598.10,422.63 L598.93,422.37 L599.76,422.11 L600.59,421.85 L601.42,421.59 L602.25,421.32 L603.08,421.06 L603.92,420.79 L604.75,420.51 L605.58,420.24 L606.41,419.96 L607.24,419.68 L608.07,419.40 L608.90,419.11 L827.60,389.01" class="ln"/>
<line x1="584.60" y1="425.93" x2="584.60" y2="429.24" class="eb"/>
<line x1="581.60" y1="425.93" x2="587.60" y2="425.93" class="eb"/>
<line x1="581.60" y1="429.24" x2="587.60" y2="429.24" class="eb"/>
<rect x="581.85" y="425.07" width="5.5" height="5.5" fill="#000"/>
<line x1="592.70" y1="422.62" x2="592.70" y2="425.45" class="eb"/>
<line x1="589.70" y1="422.62" x2="595.70" y2="422.62" class="eb"/>
<line x1="589.70" y1="425.45" x2="595.70" y2="425.45" class="eb"/>
<rect x="589.95" y="421.29" width="5.5" height="5.5" fill="#000"/>
<line x1="608.90" y1="415.52" x2="608.90" y2="423.56" class="eb"/>
<line x1="605.90" y1="415.52" x2="611.90" y2="415.52" class="eb"/>
<line x1="605.90" y1="423.56" x2="611.90" y2="423.56" class="eb"/>
<rect x="606.15" y="416.36" width="5.5" height="5.5" fill="#000"/>
<line x1="625.10" y1="414.57" x2="625.10" y2="422.62" class="eb"/>
<line x1="622.10" y1="414.57" x2="628.10" y2="414.57" class="eb"/>
<line x1="622.10" y1="422.62" x2="628.10" y2="422.62" class="eb"/>
<rect x="622.35" y="415.42" width="5.5" height="5.5" fill="#000"/>
<line x1="649.40" y1="413.15" x2="649.40" y2="421.20" class="eb"/>
<line x1="646.40" y1="413.15" x2="652.40" y2="413.15" class="eb"/>
<line x1="646.40" y1="421.20" x2="652.40" y2="421.20" class="eb"/>
<rect x="646.65" y="413.71" width="5.5" height="5.5" fill="#000"/>
<line x1="665.60" y1="412.68" x2="665.60" y2="419.30" class="eb"/>
<line x1="662.60" y1="412.68" x2="668.60" y2="412.68" class="eb"/>
<line x1="662.60" y1="419.30" x2="668.60" y2="419.30" class="eb"/>
<rect x="662.85" y="412.58" width="5.5" height="5.5" fill="#000"/>
<line x1="698.00" y1="400.66" x2="698.00" y2="415.04" class="eb"/>
<line x1="695.00" y1="400.66" x2="701.00" y2="400.66" class="eb"/>
<line x1="695.00" y1="415.04" x2="701.00" y2="415.04" class="eb"/>
<rect x="695.25" y="404.15" width="5.5" height="5.5" fill="#000"/>
<line x1="730.40" y1="390.43" x2="730.40" y2="412.68" class="eb"/>
<line x1="727.40" y1="390.43" x2="733.40" y2="390.43" class="eb"/>
<line x1="727.40" y1="412.68" x2="733.40" y2="412.68" class="eb"/>
<rect x="727.65" y="397.91" width="5.5" height="5.5" fill="#000"/>
<line x1="762.80" y1="384.28" x2="762.80" y2="404.16" class="eb"/>
<line x1="759.80" y1="384.28" x2="765.80" y2="384.28" class="eb"/>
<line x1="759.80" y1="404.16" x2="765.80" y2="404.16" class="eb"/>
<rect x="760.05" y="391.28" width="5.5" height="5.5" fill="#000"/>
<line x1="795.20" y1="384.76" x2="795.20" y2="400.37" class="eb"/>
<line x1="792.20" y1="384.76" x2="798.20" y2="384.76" class="eb"/>
<line x1="792.20" y1="400.37" x2="798.20" y2="400.37" class="eb"/>
<rect x="792.45" y="389.10" width="5.5" height="5.5" fill="#000"/>
<line x1="827.60" y1="373.87" x2="827.60" y2="402.27" class="eb"/>
<line x1="824.60" y1="373.87" x2="830.60" y2="373.87" class="eb"/>
<line x1="824.60" y1="402.27" x2="830.60" y2="402.27" class="eb"/>
<rect x="824.85" y="384.66" width="5.5" height="5.5" fill="#000"/>
<text x="813.8" y="256.7" class="pl" font-size="23">D</text>
<rect x="693.20" y="242.6" width="98.10" height="94.30" fill="none" stroke="#000" stroke-width="1.6"/>
<line x1="690.20" y1="336.90" x2="693.20" y2="336.90" stroke="#000" stroke-width="1.5"/>
<text transform="translate(689.20,340.90) scale(1.2,1)" text-anchor="end" class="tl" font-size="10.4">0</text>
<line x1="690.20" y1="305.70" x2="693.20" y2="305.70" stroke="#000" stroke-width="1.5"/>
<text transform="translate(689.20,309.70) scale(1.2,1)" text-anchor="end" class="tl" font-size="10.4">1</text>
<line x1="690.20" y1="274.50" x2="693.20" y2="274.50" stroke="#000" stroke-width="1.5"/>
<text transform="translate(689.20,278.50) scale(1.2,1)" text-anchor="end" class="tl" font-size="10.4">2</text>
<line x1="690.20" y1="243.30" x2="693.20" y2="243.30" stroke="#000" stroke-width="1.5"/>
<text transform="translate(689.20,247.30) scale(1.2,1)" text-anchor="end" class="tl" font-size="10.4">3</text>
<line x1="693.20" y1="336.90" x2="693.20" y2="339.90" stroke="#000" stroke-width="1.5"/>
<text transform="translate(693.20,352.20) scale(1.2,1)" text-anchor="middle" class="tl" font-size="10.4">400</text>
<line x1="740.20" y1="336.90" x2="740.20" y2="339.90" stroke="#000" stroke-width="1.5"/>
<text transform="translate(740.20,352.20) scale(1.2,1)" text-anchor="middle" class="tl" font-size="10.4">800</text>
<line x1="787.20" y1="336.90" x2="787.20" y2="339.90" stroke="#000" stroke-width="1.5"/>
<text transform="translate(787.20,352.20) scale(1.2,1)" text-anchor="middle" class="tl" font-size="10.4">1200</text>
<path d="M699.08,320.05 L699.68,319.42 L700.28,318.79 L700.88,318.14 L701.49,317.49 L702.09,316.83 L702.69,316.16 L703.29,315.48 L703.90,314.80 L704.50,314.10 L705.10,313.40 L705.70,312.69 L706.31,311.97 L706.91,311.25 L707.51,310.51 L708.11,309.77 L708.72,309.02 L709.32,308.26 L709.92,307.49 L710.52,306.71 L711.13,305.93 L711.73,305.14 L712.33,304.34 L712.93,303.53 L713.54,302.71 L714.14,301.89 L714.74,301.05 L715.34,300.21 L715.95,299.36 L716.55,298.51 L717.15,297.64 L717.75,296.77 L718.36,295.88 L718.96,294.99 L719.56,294.09 L720.16,293.19 L720.77,292.27 L721.37,291.35 L721.97,290.42 L722.58,289.48 L787.20,249.05" class="lni"/>
<line x1="704.95" y1="311.32" x2="704.95" y2="322.55" class="eb"/>
<line x1="702.85" y1="311.32" x2="707.05" y2="311.32" class="eb"/>
<line x1="702.85" y1="322.55" x2="707.05" y2="322.55" class="eb"/>
<rect x="702.95" y="314.31" width="4.0" height="4.0" fill="#000"/>
<line x1="710.83" y1="299.46" x2="710.83" y2="313.50" class="eb"/>
<line x1="708.73" y1="299.46" x2="712.93" y2="299.46" class="eb"/>
<line x1="708.73" y1="313.50" x2="712.93" y2="313.50" class="eb"/>
<rect x="708.83" y="304.32" width="4.0" height="4.0" fill="#000"/>
<line x1="722.58" y1="275.44" x2="722.58" y2="303.83" class="eb"/>
<line x1="720.48" y1="275.44" x2="724.68" y2="275.44" class="eb"/>
<line x1="720.48" y1="303.83" x2="724.68" y2="303.83" class="eb"/>
<rect x="720.58" y="288.10" width="4.0" height="4.0" fill="#000"/>
<line x1="734.33" y1="272.63" x2="734.33" y2="301.33" class="eb"/>
<line x1="732.23" y1="272.63" x2="736.43" y2="272.63" class="eb"/>
<line x1="732.23" y1="301.33" x2="736.43" y2="301.33" class="eb"/>
<rect x="732.33" y="284.67" width="4.0" height="4.0" fill="#000"/>
<line x1="751.95" y1="267.64" x2="751.95" y2="296.34" class="eb"/>
<line x1="749.85" y1="267.64" x2="754.05" y2="267.64" class="eb"/>
<line x1="749.85" y1="296.34" x2="754.05" y2="296.34" class="eb"/>
<rect x="749.95" y="279.68" width="4.0" height="4.0" fill="#000"/>
<line x1="763.70" y1="263.58" x2="763.70" y2="290.10" class="eb"/>
<line x1="761.60" y1="263.58" x2="765.80" y2="263.58" class="eb"/>
<line x1="761.60" y1="290.10" x2="765.80" y2="290.10" class="eb"/>
<rect x="761.70" y="274.06" width="4.0" height="4.0" fill="#000"/>
<line x1="787.20" y1="243.30" x2="787.20" y2="275.44" class="eb"/>
<line x1="785.10" y1="243.30" x2="789.30" y2="243.30" class="eb"/>
<line x1="785.10" y1="275.44" x2="789.30" y2="275.44" class="eb"/>
<rect x="785.20" y="249.72" width="4.0" height="4.0" fill="#000"/>
<text transform="translate(15.6,207.8) rotate(-90)" class="yt" font-size="18" textLength="193.5" lengthAdjust="spacingAndGlyphs">% of cells displaying</text>
<text transform="translate(41,185) rotate(-90)" class="yt" font-size="18" textLength="145" lengthAdjust="spacingAndGlyphs">a calcium peak</text>
<text transform="translate(15.8,422.8) rotate(-90)" class="yt" font-size="18" textLength="179" lengthAdjust="spacingAndGlyphs">Mean amplitude of</text>
<text transform="translate(40.8,427.5) rotate(-90)" class="yt" font-size="18" textLength="188" lengthAdjust="spacingAndGlyphs">calcium peaks (a.u)</text>
<text x="506" y="499.9" text-anchor="middle" class="xt" font-size="22.5">Electric field amplitude (V/cm)</text>
</svg></body></html>
